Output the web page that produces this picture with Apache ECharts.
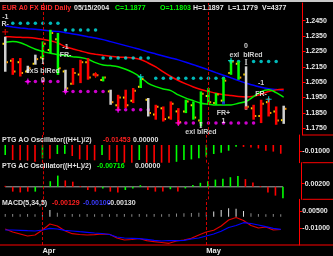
<!DOCTYPE html>
<html><head><meta charset="utf-8">
<script src="https://cdn.jsdelivr.net/npm/echarts@6/dist/echarts.min.js"></script>
<style>html,body{margin:0;padding:0;background:#000;}#c{width:333px;height:256px;}</style>
</head><body><div id="c"></div>
<script>
// ---------- data ----------
const categories = ['2004-03-25','2004-03-26','2004-03-29','2004-03-30','2004-03-31','2004-04-01','2004-04-02','2004-04-05','2004-04-06','2004-04-07',
 '2004-04-08','2004-04-09','2004-04-12','2004-04-13','2004-04-14','2004-04-15','2004-04-16','2004-04-19','2004-04-20','2004-04-21',
 '2004-04-22','2004-04-23','2004-04-26','2004-04-27','2004-04-28','2004-04-29','2004-04-30','2004-05-03','2004-05-04','2004-05-05',
 '2004-05-06','2004-05-07','2004-05-10','2004-05-11','2004-05-12','2004-05-13','2004-05-14','2004-05-15','2004-05-17','2004-05-18'];
const monthNames = {'03':'Mar','04':'Apr','05':'May'};
const barColor = 'wrrwwgggwrrrrgwrrrgwrrrrggggggggwrrrrw';
const opens  = [1.2300,1.2190,1.2180,1.2120,1.2170,1.2210,1.2260,1.2330,1.2120,1.2040,1.2100,1.2180,1.2100,1.2065,1.1990,1.1900,1.1950,1.1930,1.2020,1.1935,1.1840,1.1880,1.1820,1.1860,1.1860,1.1900,1.1800,1.1960,1.1915,1.1930,1.2110,1.2170,1.2100,1.1880,1.1830,1.1920,1.1860,1.1803];
const highs  = [1.2346,1.2207,1.2207,1.2157,1.2229,1.2315,1.2391,1.2370,1.2131,1.2142,1.2196,1.2207,1.2110,1.2087,1.2001,1.1968,1.2001,1.2012,1.2083,1.1947,1.1903,1.1892,1.1925,1.1881,1.1936,1.1925,1.1990,1.2012,1.1979,1.2077,1.2196,1.2185,1.2153,1.1903,1.1936,1.1947,1.1892,1.1897];
const lows   = [1.2118,1.2098,1.2087,1.2112,1.2164,1.2196,1.2240,1.2098,1.1990,1.2033,1.2044,1.2066,1.2087,1.2055,1.1903,1.1871,1.1882,1.1914,1.2012,1.1827,1.1806,1.1794,1.1806,1.1773,1.1849,1.1806,1.1762,1.1903,1.1903,1.1914,1.2098,1.2066,1.1871,1.1806,1.1784,1.1827,1.1773,1.1779];
const closes = [1.2180,1.2120,1.2110,1.2140,1.2200,1.2300,1.2370,1.2140,1.2010,1.2110,1.2180,1.2080,1.2095,1.2080,1.1920,1.1950,1.1900,1.1995,1.2070,1.1850,1.1890,1.1810,1.1910,1.1790,1.1925,1.1820,1.1975,1.1920,1.1970,1.2060,1.2185,1.2080,1.1890,1.1830,1.1910,1.1850,1.1800,1.1877];
const jaw   = [1.2416,1.2409,1.2403,1.2398,1.2394,1.2390,1.2383,1.2379,1.2372,1.2364,1.2355,1.2346,1.2338,1.2327,1.2314,1.2301,1.2288,1.2275,1.2262,1.2247,1.2234,1.2221,1.2208,1.2195,1.2180,1.2164,1.2147,1.2130,1.2112,1.2095,1.2078,1.2060,1.2043,1.2030,1.2017,1.2008,1.2002,1.1995];
const teeth = [1.2346,1.2344,1.2342,1.2340,1.2336,1.2329,1.2320,1.2305,1.2281,1.2266,1.2253,1.2240,1.2232,1.2225,1.2219,1.2214,1.2211,1.2208,1.2198,1.2175,1.2149,1.2117,1.2087,1.2061,1.2039,1.2019,1.2003,1.1990,1.1978,1.1969,1.1963,1.1957,1.1954,1.1959,1.1972,1.1989,1.2000,1.2004];
const lips  = [1.2310,1.2314,1.2307,1.2286,1.2264,1.2249,1.2238,1.2229,1.2223,1.2216,1.2210,1.2199,1.2177,1.2162,1.2158,1.2151,1.2134,1.2112,1.2082,1.2043,1.2021,1.2006,1.1995,1.1967,1.1946,1.1930,1.1913,1.1907,1.1902,1.1902,1.1902,1.1913,1.1924,1.1956,1.1989,1.2000,1.1982,1.1952];
const upLevel = [null,1.2433,1.2433,1.2433,1.2433,1.2433,1.2433,1.2433,1.2390,1.2390,1.2390,1.2390,1.2390,1.2208,1.2208,1.2208,1.2208,1.2208,1.2208,1.2208,
 1.2076,1.2076,1.2076,1.2076,1.2076,1.2076,1.2076,1.2076,1.2076,1.2076,1.2184,1.2184,null,1.2184,1.2184,1.2184,1.2184,null];
const downLevel = [null,null,null,1.2054,1.2054,1.2054,1.2054,1.2054,1.1989,1.1989,1.1989,1.1989,1.1989,1.1989,null,1.1870,1.1870,1.1870,1.1870,1.1870,
 null,null,null,1.1785,1.1785,1.1785,1.1785,1.1785,1.1785,1.1785,1.1785,1.1785,1.1785,1.1785,null,null,null,null];
const crossMarks = [[0,1.2377,'r'],[3,1.2054,'m'],[8,1.1989,'m'],[12,1.2097,'r'],[15,1.1870,'m'],[18,1.2084,'c'],[23,1.1785,'m'],[30,1.2190,'c'],[35,1.1939,'c']];
const dotMarks = [[29,1.1915,'b'],[32,1.1883,'r']];
const beamMarks = [[5,1.2182],[32,1.2175],[26,1.1766]];
const notes = [[0,1.2476,'-1'],[0,1.2429,'R-'],[8,1.2279,'-1'],[8,1.2228,'FR-'],[5,1.2123,'exS blRed'],[5,1.2065,'0'],
 [32,1.2286,'0'],[32,1.2227,'exl  blRed'],[34,1.2044,'-1'],[34,1.1973,'FR-'],[29,1.1848,'FR+'],[29,1.1794,'1'],[26,1.1727,'exl blRed']];
const priceTicks = [1.1750,1.1850,1.1950,1.2050,1.2150,1.2250,1.2350,1.2450];
const aoValues = [-0.0167,-0.0250,-0.0255,-0.0260,-0.0280,-0.0222,-0.0228,-0.0150,-0.0148,-0.0183,-0.0239,-0.0250,-0.0255,-0.0167,-0.0250,-0.0280,-0.0300,-0.0310,-0.0250,-0.0310,
 -0.0320,-0.0310,-0.0300,-0.0280,-0.0250,-0.0240,-0.0220,-0.0195,-0.0150,-0.0128,-0.0095,-0.0030,-0.0032,-0.0040,-0.0058,-0.0095,-0.0110,-0.01453];
const aoColor = 'grrrrgrggrrrrgrrrrgrrrrgggggggggrrrrrr';
const aoTicks = [-0.01];
const acValues = [0.0006,-0.0030,-0.0035,-0.0030,-0.0030,0.0005,0.0035,0.0070,0.0040,0.0032,0.0005,-0.0020,-0.0030,-0.0010,-0.0030,-0.0035,-0.0020,-0.0010,0.0010,-0.0020,
 -0.0030,-0.0030,-0.0015,-0.0030,-0.0010,0.0012,0.0025,0.0035,0.0045,0.0050,0.0060,0.0068,0.0048,0.0027,0.0005,-0.0035,-0.0055,-0.00716];
const acColor = 'rrrrggggrrrrrgrrgggrrrgrggggggggrrrrrg';
const acTicks = [0.002];
const macdLine = [-0.01058,-0.01318,-0.01491,-0.01665,-0.01578,-0.01144,-0.00624,-0.00798,-0.01205,-0.01465,-0.01535,-0.01578,-0.01552,-0.01491,-0.01517,-0.01838,-0.02011,-0.01968,-0.01881,-0.02072,
 -0.02159,-0.02228,-0.02298,-0.02098,-0.02011,-0.01864,-0.01578,-0.01318,-0.01170,-0.00798,-0.00277,-0.00061,-0.00321,-0.00754,-0.00971,-0.00884,-0.01144,-0.01101];
const signalLine = [-0.01144,-0.01144,-0.01170,-0.01205,-0.01231,-0.01144,-0.00997,-0.01058,-0.01170,-0.01231,-0.01292,-0.01344,-0.01405,-0.01448,-0.01535,-0.01751,-0.01838,-0.01864,-0.01899,-0.01951,
 -0.02037,-0.02098,-0.02055,-0.02072,-0.02037,-0.01925,-0.01838,-0.01665,-0.01491,-0.01257,-0.00928,-0.00754,-0.00512,-0.00581,-0.00711,-0.00858,-0.00997,-0.01084];
const macdHist = [0.0025,0.0025,0.0022,0.0025,0.0022,0.0030,0.0060,0.0035,0.0025,0.0025,0.0022,0.0025,0.0022,0.0025,0.0022,0.0025,0.0025,0.0022,0.0025,0.0022,
 0.0025,0.0022,0.0025,0.0028,0.0030,0.0032,0.0035,0.0040,0.0045,0.0060,0.0075,0.0070,0.0050,0.0030,0.0025,0.0022,0.0025,0.0022];
const macdTicks = [0.005,-0.01];
const headers = [
 [2,8.5,'EUR A0 FX BID Daily','#ff2a2a'],[74,8.5,'05/15/2004','#e8e8e8'],[115,8.5,'C=1.1877','#00ff00'],[160,8.5,'O=1.1803','#00ff00'],
 [193,8.5,'H=1.1897','#e8e8e8'],[228,8.5,'L=1.1779','#e8e8e8'],[262,8.5,'V=4377','#e8e8e8'],
 [2,140.5,'PTG AO Oscillator((H+L)/2)','#e0e0e0'],[103,140.5,'-0.01453','#ff2020'],[133,140.5,'0.00000','#e0e0e0'],
 [2,166,'PTG AC Oscillator((H+L)/2)','#e0e0e0'],[97,166,'-0.00716','#00ff00'],[135,166,'0.00000','#e0e0e0'],
 [2,203.5,'MACD(5,34,5)','#e0e0e0'],[52,203.5,'-0.00129','#ff2020'],[83,203.5,'-0.00100','#3a3aff'],[108,203.5,'-0.00130','#e0e0e0']
];

// ---------- layout / style ----------
const paneTop = [3,135,162.7,199.3], paneBot = [135,162.7,199.3,245];
const yRange = [[1.17064,1.25652],[-0.0295,0.01667],[-0.0078,0.01506],[-0.02446,0.01518]];
const yTicks = [priceTicks, aoTicks, acTicks, macdTicks];
const yDigits = [4,5,5,5];
const colMap = {g:'#00ff00', r:'#ff0000', w:'#d0d0d0', m:'#ff00ff', c:'#00e8e8', b:'#2020ff'};
const FONT = '"Liberation Sans", Arial, sans-serif';
const monthStarts = categories.map((c,i)=>i).filter(i => i>0 && categories[i].slice(5,7)!==categories[i-1].slice(5,7));
const monthLine = {silent:true, symbol:['none','none'], label:{show:false}, animation:false,
  lineStyle:{color:'#d00000', type:[3,2], width:1}, data: monthStarts.map(i=>({xAxis: categories[i]}))};

const grids = paneTop.map((t,k)=>({left:1.5, right:30.5, top:t, height:paneBot[k]-t}));
const xAxes = paneTop.map((t,k)=>({type:'category', gridIndex:k, data:categories, boundaryGap:true,
  axisLine:{show:false}, axisTick:{show:false}, splitLine:{show:false},
  axisLabel:{show:k===3, interval:(i)=>monthStarts.includes(i), formatter:(v)=>monthNames[v.slice(5,7)],
    align:'left', color:'#e8e8e8', fontSize:7.5, fontWeight:'bold', fontFamily:FONT, margin:2}}));
const yAxes = paneTop.map((t,k)=>({type:'value', gridIndex:k, position:'right', min:yRange[k][0], max:yRange[k][1],
  axisLine:{show:true, lineStyle:{color:'#ff0000', width:1}},
  axisTick:{show:true, length:3, lineStyle:{color:'#ff0000'}, customValues:yTicks[k]},
  splitLine:{show:false},
  axisLabel:{customValues:yTicks[k], formatter:(v)=>v.toFixed(yDigits[k]), color:'#e8e8e8', fontSize:7, fontWeight:'bold', fontFamily:FONT, margin:3}}));

const plusPath = 'path://M4,0H6V4H10V6H6V10H4V6H0V4H4Z';

const series = [
  {type:'line', xAxisIndex:0, yAxisIndex:0, data:jaw, showSymbol:false, smooth:0.3, lineStyle:{color:'#0000ff', width:1.5}, z:2},
  {type:'line', xAxisIndex:0, yAxisIndex:0, data:teeth, showSymbol:false, smooth:0.3, lineStyle:{color:'#ff0000', width:1.5}, z:2},
  {type:'line', xAxisIndex:0, yAxisIndex:0, data:lips, showSymbol:false, smooth:0.3, lineStyle:{color:'#00ee00', width:1.5}, z:2},
  {type:'scatter', xAxisIndex:0, yAxisIndex:0, data:upLevel, symbol:'circle', symbolSize:3.5, itemStyle:{color:colMap.c}, z:3},
  {type:'scatter', xAxisIndex:0, yAxisIndex:0, data:downLevel, symbol:'circle', symbolSize:3.5, itemStyle:{color:colMap.m}, z:3},
  {type:'custom', xAxisIndex:0, yAxisIndex:0, z:4,
    data: opens.map((o,i)=>[i,o,highs[i],lows[i],closes[i]]),
    encode:{x:0, y:[1,2,3,4]},
    markLine: monthLine,
    renderItem:(params, api)=>{
      const i = api.value(0);
      const o = api.coord([i, api.value(1)]), h = api.coord([i, api.value(2)]), l = api.coord([i, api.value(3)]), c = api.coord([i, api.value(4)]);
      const col = colMap[barColor[i]];
      return {type:'group', children:[
        {type:'rect', shape:{x:h[0]-1.25, y:h[1], width:2.5, height:l[1]-h[1]}, style:{fill:col}},
        {type:'rect', shape:{x:o[0]-2.75, y:o[1]-1, width:1.5, height:2}, style:{fill:'#ffd700'}},
        {type:'rect', shape:{x:c[0]+1.25, y:c[1]-1, width:1.5, height:2}, style:{fill:'#ff9a00'}}
      ]};
    }},
  {type:'scatter', xAxisIndex:0, yAxisIndex:0, z:5, symbol:plusPath, symbolSize:6,
    data: crossMarks.map(d=>({value:[d[0],d[1]], itemStyle:{color:colMap[d[2]]}}))},
  {type:'scatter', xAxisIndex:0, yAxisIndex:0, z:5, symbol:'rect', symbolSize:3,
    data: dotMarks.map(d=>({value:[d[0],d[1]], itemStyle:{color:colMap[d[2]]}}))},
  {type:'scatter', xAxisIndex:0, yAxisIndex:0, z:6, symbolSize:0.1,
    data: beamMarks.map(d=>({value:[d[0],d[1]]})),
    label:{show:true, position:'inside', formatter:'I', color:'#ffffff', fontSize:8, fontWeight:'bold', fontFamily:'"Liberation Serif", serif'}},
  {type:'scatter', xAxisIndex:0, yAxisIndex:0, z:6, symbolSize:0.1,
    data: notes.map(d=>({value:[d[0],d[1]], name:d[2]})),
    label:{show:true, position:'inside', formatter:(p)=>p.name, color:'#ffffff', fontSize:7, fontWeight:'bold', fontFamily:FONT}},
  // AO
  {type:'bar', xAxisIndex:1, yAxisIndex:1, data: aoValues.map((v,i)=>({value:v, itemStyle:{color:colMap[aoColor[i]]}})), barWidth:1.6, markLine: monthLine},
  // AC
  {type:'line', xAxisIndex:2, yAxisIndex:2, data: acValues.map(()=>0), showSymbol:false, lineStyle:{color:'#a8a8a8', width:1}, z:1},
  {type:'bar', xAxisIndex:2, yAxisIndex:2, data: acValues.map((v,i)=>({value:v, itemStyle:{color:colMap[acColor[i]]}})), barWidth:1.6, markLine: monthLine, z:2},
  // MACD
  {type:'bar', xAxisIndex:3, yAxisIndex:3, data: macdHist.map(v=>({value:v, itemStyle:{color: v>0.004 ? '#e0e0e0' : '#8a8a8a'}})), barWidth:1, markLine: monthLine},
  {type:'line', xAxisIndex:3, yAxisIndex:3, data: macdLine, showSymbol:false, lineStyle:{color:'#e00000', width:1.2}},
  {type:'line', xAxisIndex:3, yAxisIndex:3, data: signalLine, showSymbol:false, lineStyle:{color:'#0000ff', width:1.2}}
];

const graphic = [
  {type:'rect', shape:{x:0, y:0, width:333, height:2}, style:{fill:'#c8c8c8'}, z:100},
  {type:'line', shape:{x1:0, y1:245, x2:333, y2:245}, style:{stroke:'#ff0000', lineWidth:1}, z:100},
  ...paneBot.slice(0,3).map(y=>({type:'line', shape:{x1:302.5, y1:y, x2:333, y2:y}, style:{stroke:'#ff0000', lineWidth:1}, z:100})),
  ...headers.map(h=>({type:'text', x:h[0], y:h[1], z:100,
    style:{text:h[2], fill:h[3], font:'bold 7px ' + FONT, verticalAlign:'middle'}}))
];

const chart = echarts.init(document.getElementById('c'), null, {renderer:'canvas'});
chart.setOption({
  backgroundColor:'#000000', animation:false,
  grid: grids, xAxis: xAxes, yAxis: yAxes, series: series, graphic: graphic
});
</script></body></html>
